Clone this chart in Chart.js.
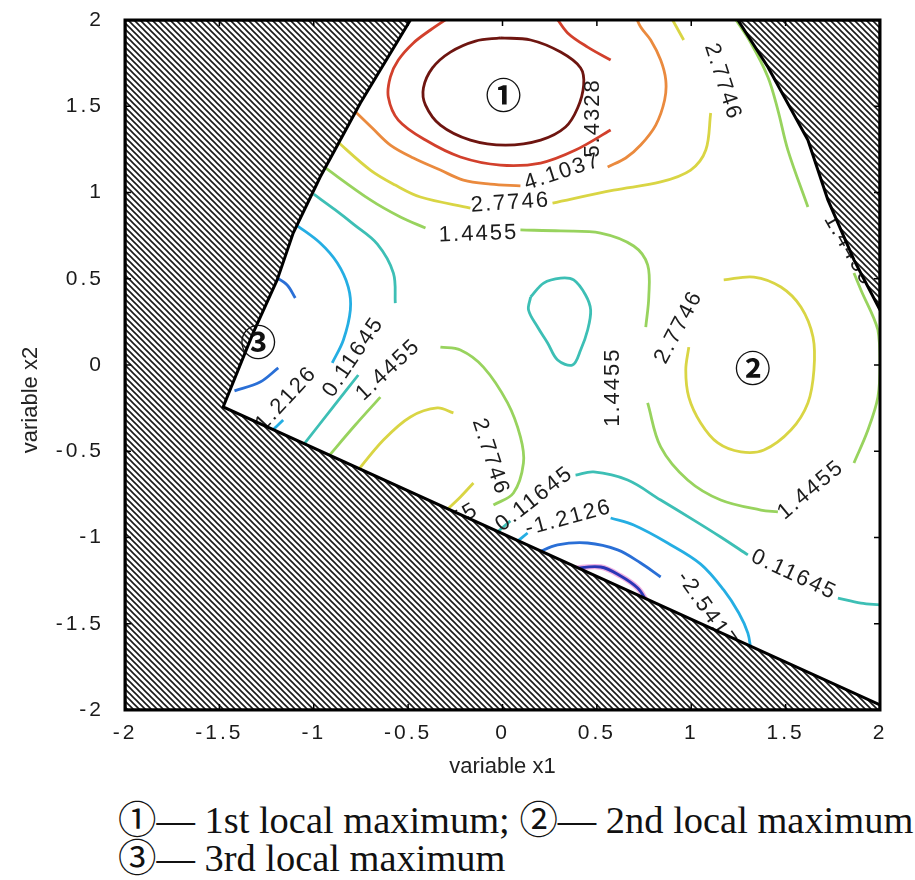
<!DOCTYPE html>
<html>
<head>
<meta charset="utf-8">
<script src="https://cdn.jsdelivr.net/npm/chart.js@4.4.1/dist/chart.umd.min.js"></script>
<style>
  body { margin: 0; background: #fff; width: 915px; height: 880px; overflow: hidden; position: relative; }
  #c { position: absolute; left: 0; top: 0; }
  .cap { position: absolute; left: 118px; font-family: "Liberation Serif", "Noto Sans CJK SC", serif; font-size: 38px; line-height: 38px; color: #111; white-space: nowrap; transform-origin: left center; }
</style>
</head>
<body>
<canvas id="c" width="915" height="790"></canvas>
<div class="cap" id="cap1" style="top:801px">①— 1st local maximum; ②— 2nd local maximum</div>
<div class="cap" id="cap2" style="top:839px">③— 3rd local maximum</div>
<script>
// iso-levels of the objective and the colour of each line
const levels = [-3.8708, -2.5417, -1.2126, 0.11645, 1.4455, 2.7746, 4.1037, 5.4328, 6.7619];
const levelColors = ['#2a36b5', '#2a6fd6', '#25aee3', '#3dbfb5', '#98d35e', '#d9d544', '#ea8a3e', '#d2402c', '#6e1510'];

const xTicks = [-2, -1.5, -1, -0.5, 0, 0.5, 1, 1.5, 2];
const yTicks = [-2, -1.5, -1, -0.5, 0, 0.5, 1, 1.5, 2];

// infeasible regions (x1, x2)
const leftBlock = [[-2, 2], [-0.488, 2], [-0.753, 1.519], [-0.966, 1.09], [-1.109, 0.765], [-1.194, 0.493],
  [-1.321, 0.186], [-1.48, -0.243], [2, -1.971], [2, -2], [-2, -2], [-2, 2]];
const cornerBlock = [[1.247, 2], [1.406, 1.728], [1.618, 1.304], [1.724, 0.957], [1.862, 0.609], [2, 0.319], [2, 2], [1.247, 2]];

// contour pieces, level 6.7619 .. -3.8708
const peak1Ring = [[-0.011, 1.896], [0.149, 1.884], [0.308, 1.814], [0.414, 1.722], [0.43, 1.623], [0.398, 1.49],
  [0.334, 1.38], [0.202, 1.304], [0.016, 1.275], [-0.17, 1.304], [-0.329, 1.391], [-0.408, 1.507], [-0.419, 1.606],
  [-0.371, 1.722], [-0.276, 1.814], [-0.143, 1.878], [-0.011, 1.896]];
const redWest = [[-0.276, 2.02], [-0.382, 1.942], [-0.472, 1.867], [-0.552, 1.768], [-0.594, 1.67], [-0.605, 1.554],
  [-0.552, 1.42], [-0.408, 1.304], [-0.223, 1.206], [-0.011, 1.159], [0.202, 1.171], [0.387, 1.246], [0.573, 1.362]];
const redEast = [[0.281, 2.02], [0.345, 1.925], [0.451, 1.843], [0.573, 1.768]];
const orangeWest = [[-0.79, 1.48], [-0.69, 1.374], [-0.594, 1.275], [-0.472, 1.2], [-0.329, 1.13], [-0.207, 1.072],
  [-0.064, 1.049], [0.095, 1.038]];
const orangeEast = [[0.557, 1.148], [0.653, 1.2], [0.732, 1.275], [0.812, 1.391], [0.859, 1.536], [0.865, 1.652],
  [0.838, 1.768], [0.785, 1.884], [0.732, 1.959], [0.706, 2.02]];
const yellowNorthA = [[-0.89, 1.31], [-0.7, 1.13], [-0.568, 1.043], [-0.435, 0.974], [-0.17, 0.91]];
const yellowNorthB = [[0.265, 0.939], [0.589, 1.014], [0.838, 1.061], [0.997, 1.13], [1.077, 1.246], [1.103, 1.461]];
const yellowNorthC = [[0.96, 1.884], [0.891, 2.02]];
const yellowEast = [[0.987, 0.104], [0.971, -0.029], [0.987, -0.186], [1.05, -0.336], [1.141, -0.452], [1.263, -0.504],
  [1.385, -0.493], [1.528, -0.377], [1.618, -0.22], [1.65, -0.029], [1.645, 0.162], [1.581, 0.336], [1.475, 0.452],
  [1.332, 0.51], [1.172, 0.493]];
const yellowSouthA = [[-0.78, -0.63], [-0.631, -0.435], [-0.488, -0.301], [-0.345, -0.249], [-0.26, -0.278]];
const yellowSouthB = [[-0.154, -0.684], [-0.223, -0.765], [-0.31, -0.855]];
const greenA = [[-0.96, 1.16], [-0.7, 0.957], [-0.541, 0.858], [-0.408, 0.794]];
const greenB = [[0.095, 0.783], [0.308, 0.777], [0.52, 0.765], [0.695, 0.69], [0.769, 0.58], [0.775, 0.394], [0.759, 0.22]];
const greenC = [[0.769, -0.22], [0.838, -0.475], [0.981, -0.667], [1.156, -0.783], [1.369, -0.841], [1.459, -0.852]];
const greenD = [[1.862, -0.568], [1.936, -0.377], [1.989, -0.186], [2.0, 0.012], [1.989, 0.203], [1.899, 0.435], [1.862, 0.533]];
const greenE = [[1.618, 0.916], [1.512, 1.246], [1.459, 1.478], [1.406, 1.67], [1.316, 1.867], [1.225, 2.02]];
const greenSouthA = [[-0.93, -0.54], [-0.78, -0.348], [-0.647, -0.186]];
const greenSouthB = [[-0.329, 0.104], [-0.223, 0.087], [-0.101, -0.012], [0.027, -0.22], [0.095, -0.417], [0.111, -0.568],
  [0.058, -0.742], [-0.048, -0.812]];
const tealWestA = [[-1.0, 0.99], [-0.886, 0.899], [-0.79, 0.817], [-0.663, 0.701], [-0.578, 0.533], [-0.568, 0.359]];
const tealWestB = [[-0.764, -0.058], [-0.897, -0.243], [-1.06, -0.47]];
const tealLoop = [[0.149, 0.394], [0.218, 0.475], [0.308, 0.504], [0.377, 0.493], [0.44, 0.406], [0.467, 0.319],
  [0.451, 0.203], [0.414, 0.087], [0.371, 0.0], [0.292, 0.029], [0.239, 0.128], [0.186, 0.22], [0.138, 0.319], [0.149, 0.394]];
const tealSouthA = [[-0.04, -0.98], [0.042, -0.904]];
const tealSouthB = [[0.387, -0.638], [0.483, -0.62], [0.663, -0.667], [0.838, -0.783], [1.013, -0.899], [1.156, -0.997], [1.3, -1.101]];
const tealSouthC = [[1.777, -1.351], [1.899, -1.38], [2.0, -1.391]];
const skyWestA = [[-1.09, 0.81], [-0.966, 0.707], [-0.875, 0.591], [-0.817, 0.452], [-0.806, 0.319], [-0.843, 0.145], [-0.902, 0.012]];
const skyWestB = [[-1.162, -0.319], [-1.23, -0.39]];
const skySouthA = [[0.07, -1.03], [0.133, -0.974]];
const skySouthB = [[0.573, -0.887], [0.695, -0.928], [0.875, -1.032], [1.05, -1.154], [1.172, -1.304], [1.252, -1.438],
  [1.3, -1.554], [1.316, -1.65]];
const blueWestA = [[-1.21, 0.515], [-1.141, 0.464], [-1.098, 0.388]];
const blueWestB = [[-1.42, -0.15], [-1.284, -0.099], [-1.188, -0.017]];
const blueSouth = [[0.18, -1.09], [0.292, -1.043], [0.451, -1.032], [0.61, -1.072], [0.732, -1.148], [0.838, -1.229]];
const navySouth = [[0.37, -1.18], [0.52, -1.171], [0.626, -1.223], [0.716, -1.293], [0.765, -1.37]];

// [level index, line]
const contourPieces = [
  [8, peak1Ring], [7, redWest], [7, redEast], [6, orangeWest], [6, orangeEast],
  [5, yellowNorthA], [5, yellowNorthB], [5, yellowNorthC], [5, yellowEast], [5, yellowSouthA], [5, yellowSouthB],
  [4, greenA], [4, greenB], [4, greenC], [4, greenD], [4, greenE], [4, greenSouthA], [4, greenSouthB],
  [3, tealWestA], [3, tealWestB], [3, tealLoop], [3, tealSouthA], [3, tealSouthB], [3, tealSouthC],
  [2, skyWestA], [2, skyWestB], [2, skySouthA], [2, skySouthB],
  [1, blueWestA], [1, blueWestB], [1, blueSouth], [0, navySouth]
];

// inline contour labels: [level index, x1, x2, rotation in degrees]
const labelSpots = [
  [7, 0.477, 1.432, -90], [6, 0.318, 1.119, -18], [5, 0.042, 0.939, -4], [4, -0.127, 0.759, -2],
  [5, 1.167, 1.641, 72], [4, 1.835, 0.667, 60], [5, 0.934, 0.22, -62], [4, 0.584, -0.128, -90],
  [4, 1.634, -0.725, -40], [3, 1.544, -1.217, 25], [1, 1.082, -1.42, 55], [2, 0.35, -0.887, -15],
  [3, 0.17, -0.777, -38], [4, -0.318, -0.945, -30], [5, -0.064, -0.533, 72], [4, -0.605, -0.029, -43],
  [3, -0.79, 0.046, -56], [2, -1.162, -0.214, -47]
];

// local maxima markers
const maxima = [['①', 0.005, 1.565], ['②', 1.326, -0.017], ['③', -1.294, 0.133]];

const canvas = document.getElementById('c');
const ctx0 = canvas.getContext('2d');

// diagonal hatching for the infeasible area
const tile = document.createElement('canvas');
tile.width = 6; tile.height = 6;
const tg = tile.getContext('2d');
tg.fillStyle = '#fff';
tg.fillRect(0, 0, 6, 6);
tg.strokeStyle = '#1a1a1a';
tg.lineWidth = 1.6;
tg.beginPath();
for (let k = -1; k <= 1; k++) {
  tg.moveTo(k * 6 - 2, -2);
  tg.lineTo(k * 6 + 8, 8);
}
tg.stroke();
const hatch = ctx0.createPattern(tile, 'repeat');

const toXY = arr => arr.map(([x, y]) => ({ x, y }));

const datasets = [
  { data: toXY(leftBlock), fill: 'shape', backgroundColor: hatch, borderColor: '#000', borderWidth: 3, tension: 0 },
  { data: toXY(cornerBlock), fill: 'shape', backgroundColor: hatch, borderColor: '#000', borderWidth: 3, tension: 0 }
];
const firstContour = datasets.length;
contourPieces.forEach(([li, pts]) => {
  datasets.push({ data: toXY(pts), borderColor: levelColors[li], borderWidth: 2.8, tension: 0.35, fill: false });
});
// faint magenta fringe under the innermost blue line
datasets.push({ data: toXY(navySouth), borderColor: 'rgba(225,110,200,0.55)', borderWidth: 5.5, tension: 0.35, fill: false });

const sans = '"Liberation Sans", Arial, sans-serif';

function drawLabels(chart) {
  const { ctx, scales: { x, y } } = chart;
  ctx.save();
  ctx.font = '22px ' + sans;
  ctx.letterSpacing = '2px';
  ctx.fillStyle = '#1c1c1c';
  ctx.textAlign = 'center';
  ctx.textBaseline = 'middle';
  labelSpots.forEach(([li, lx, ly, rot]) => {
    ctx.save();
    ctx.translate(x.getPixelForValue(lx), y.getPixelForValue(ly));
    ctx.rotate(rot * Math.PI / 180);
    ctx.fillText(String(levels[li]), 0, 0);
    ctx.restore();
  });
  ctx.restore();
}

const overlay = {
  id: 'overlay',
  beforeDraw(chart) {
    chart.ctx.letterSpacing = '3px';
  },
  afterDatasetDraw(chart, args) {
    if (args.index === firstContour) drawLabels(chart);
  },
  afterDatasetsDraw(chart) {
    const { ctx, chartArea: a, scales: { x, y } } = chart;
    ctx.save();
    ctx.letterSpacing = '0px';
    // frame
    ctx.strokeStyle = '#000';
    ctx.lineWidth = 3;
    ctx.strokeRect(a.left, a.top, a.right - a.left, a.bottom - a.top);
    // inward tick marks on all four sides
    ctx.lineWidth = 1.5;
    ctx.beginPath();
    xTicks.forEach(v => {
      const px = x.getPixelForValue(v);
      ctx.moveTo(px, a.bottom); ctx.lineTo(px, a.bottom - 6);
      ctx.moveTo(px, a.top); ctx.lineTo(px, a.top + 6);
    });
    yTicks.forEach(v => {
      const py = y.getPixelForValue(v);
      ctx.moveTo(a.left, py); ctx.lineTo(a.left + 6, py);
      ctx.moveTo(a.right, py); ctx.lineTo(a.right - 6, py);
    });
    ctx.stroke();
    // maxima markers
    ctx.fillStyle = '#111';
    ctx.font = 'bold 36px "Noto Sans CJK SC", "DejaVu Sans", sans-serif';
    ctx.textAlign = 'center';
    ctx.textBaseline = 'middle';
    maxima.forEach(([t, mx, my]) => ctx.fillText(t, x.getPixelForValue(mx), y.getPixelForValue(my)));
    // axis titles
    ctx.font = '22px ' + sans;
    ctx.fillStyle = '#222';
    ctx.fillText('variable x1', (a.left + a.right) / 2, a.bottom + 57);
    ctx.translate(a.left - 94, (a.top + a.bottom) / 2 + 35);
    ctx.rotate(-Math.PI / 2);
    ctx.fillText('variable x2', 0, 0);
    ctx.restore();
  },
  afterDraw(chart) {
    chart.ctx.letterSpacing = '0px';
  }
};

const tickFont = { family: sans, size: 21 };

new Chart(canvas, {
  type: 'line',
  data: { datasets },
  options: {
    responsive: false,
    animation: false,
    events: [],
    layout: { padding: { left: 0, right: 35, top: 20, bottom: 0 } },
    elements: { point: { radius: 0 } },
    plugins: { legend: { display: false }, tooltip: { enabled: false } },
    scales: {
      x: {
        type: 'linear', min: -2, max: 2,
        grid: { display: false, drawTicks: false }, border: { display: false },
        afterBuildTicks: s => { s.ticks = xTicks.map(v => ({ value: v })); },
        afterFit: s => { s.height = 80; s.paddingLeft = 0; s.paddingRight = 0; },
        ticks: { padding: 11, color: '#1a1a1a', font: tickFont, maxRotation: 0, autoSkip: false, callback: v => String(v) }
      },
      y: {
        type: 'linear', min: -2, max: 2,
        grid: { display: false, drawTicks: false }, border: { display: false },
        afterBuildTicks: s => { s.ticks = yTicks.map(v => ({ value: v })); },
        afterFit: s => { s.width = 125; s.paddingTop = 0; s.paddingBottom = 0; },
        ticks: { padding: 21, color: '#1a1a1a', font: tickFont, autoSkip: false, callback: v => String(v) }
      }
    }
  },
  plugins: [overlay]
});

// caption is squeezed horizontally to the printed width
const cap1 = document.getElementById('cap1');
const cap2 = document.getElementById('cap2');
const k = 795 / cap1.offsetWidth;
[cap1, cap2].forEach(el => { el.style.transform = 'scaleX(' + k + ')'; });
</script>
</body>
</html>
